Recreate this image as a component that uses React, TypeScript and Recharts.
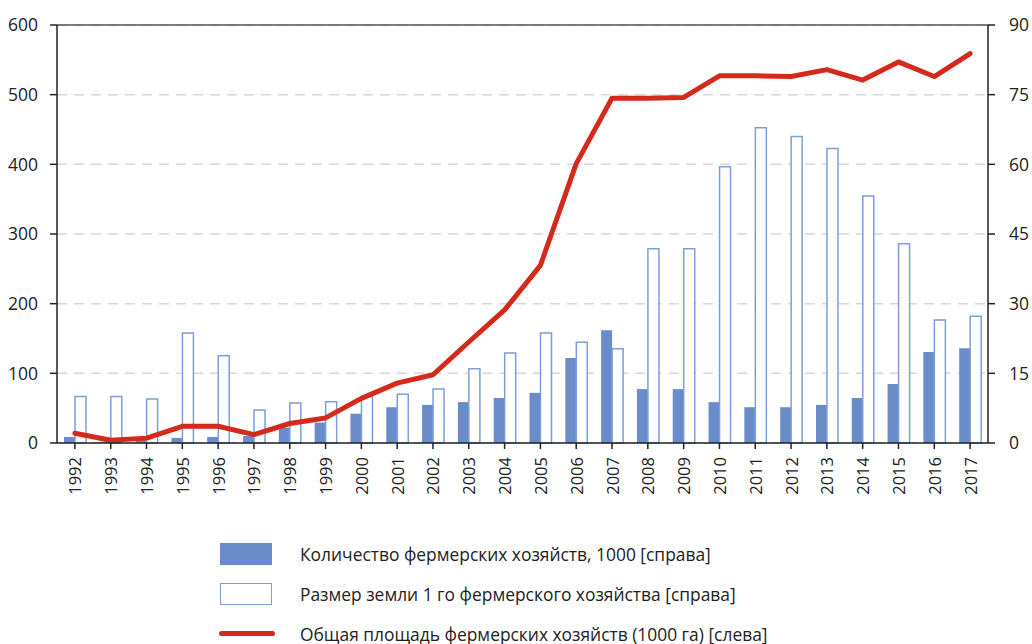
import React from 'react';
import {
  ComposedChart,
  Bar,
  Line,
  XAxis,
  YAxis,
  CartesianGrid,
  ReferenceLine,
} from 'recharts';

const years = [
  '1992', '1993', '1994', '1995', '1996', '1997', '1998', '1999', '2000', '2001',
  '2002', '2003', '2004', '2005', '2006', '2007', '2008', '2009', '2010', '2011',
  '2012', '2013', '2014', '2015', '2016', '2017',
];

// Количество фермерских хозяйств, 1000 [справа]
const farmCount = [
  1.3, 0.3, 0.6, 1.1, 1.3, 1.5, 3.3, 4.4, 6.3, 7.7,
  8.2, 8.8, 9.7, 10.8, 18.3, 24.3, 11.6, 11.6, 8.8, 7.7,
  7.7, 8.2, 9.7, 12.7, 19.6, 20.4,
];

// Размер земли 1 го фермерского хозяйства [справа]
const landSize = [
  10.0, 10.0, 9.5, 23.7, 18.8, 7.1, 8.6, 8.9, 10.0, 10.5,
  11.6, 16.0, 19.4, 23.7, 21.7, 20.3, 41.8, 41.8, 59.5, 67.9,
  66.0, 63.4, 53.2, 42.9, 26.5, 27.3,
];

// Общая площадь фермерских хозяйств (1000 га) [слева]
const totalArea = [
  14, 4, 7, 24, 24, 12, 28, 36, 64, 86,
  98, 145, 191, 255, 401, 495, 495, 496, 527, 527,
  526, 536, 521, 547, 526, 559,
];

const leftTicks = [0, 100, 200, 300, 400, 500, 600];
const rightTicks = [0, 15, 30, 45, 60, 75, 90];

const legendLabels = [
  'Количество фермерских хозяйств, 1000 [справа]',
  'Размер земли 1 го фермерского хозяйства [справа]',
  'Общая площадь фермерских хозяйств (1000 га) [слева]',
];

const data = years.map((y, i) => ({
  year: y,
  count: farmCount[i],
  size: landSize[i],
  area: totalArea[i],
}));

const FONT = '"Open Sans", sans-serif';
const BLUE = '#6a8cc8';
const BLUE_LINE = '#7d9fd8';
const RED = '#d42a1b';

const XTick = (props: any) => {
  const { x, y, payload } = props;
  return (
    <text
      transform={`translate(${x},${y + 6}) rotate(-90)`}
      textAnchor="end"
      dominantBaseline="central"
      fontFamily={FONT}
      fontSize={16.5}
      fill="#222"
    >
      {payload.value}
    </text>
  );
};

export default function App() {
  return (
    <div
      style={{
        position: 'absolute',
        left: 0,
        top: 0,
        width: 1032,
        height: 644,
        background: '#fff',
        fontFamily: FONT,
      }}
    >
      <ComposedChart
        width={1032}
        height={644}
        data={data}
        margin={{ top: 25, right: 0, bottom: 0, left: 0 }}
        barGap={0}
        barSize={11}
      >
        <CartesianGrid
          yAxisId="left"
          vertical={false}
          stroke="#d8d8d8"
          strokeWidth={1.5}
          strokeDasharray="10 7"
        />
        <XAxis
          dataKey="year"
          height={201}
          tick={<XTick />}
          tickLine={{ stroke: '#222', strokeWidth: 1.5 }}
          axisLine={{ stroke: '#222', strokeWidth: 1.5 }}
          tickSize={6}
          interval={0}
        />
        <YAxis
          yAxisId="left"
          orientation="left"
          width={57}
          domain={[0, 600]}
          ticks={leftTicks}
          tickSize={7}
          tickMargin={12}
          tick={{ fontFamily: FONT, fontSize: 17.5, fill: '#222' }}
          tickLine={{ stroke: '#222', strokeWidth: 1.5 }}
          axisLine={{ stroke: '#222', strokeWidth: 1.5 }}
        />
        <YAxis
          yAxisId="right"
          orientation="right"
          width={44}
          domain={[0, 90]}
          ticks={rightTicks}
          tickSize={7}
          tickMargin={14}
          tick={{ fontFamily: FONT, fontSize: 17.5, fill: '#222', textAnchor: 'start' }}
          tickLine={{ stroke: '#222', strokeWidth: 1.5 }}
          axisLine={{ stroke: '#222', strokeWidth: 1.5 }}
        />
        <ReferenceLine yAxisId="left" y={600} stroke="#555" strokeWidth={1.5} />
        <Bar
          yAxisId="right"
          dataKey="count"
          fill={BLUE}
          isAnimationActive={false}
        />
        <Bar
          yAxisId="right"
          dataKey="size"
          fill="#ffffff"
          stroke={BLUE_LINE}
          strokeWidth={1.5}
          isAnimationActive={false}
        />
        <Line
          yAxisId="left"
          dataKey="area"
          stroke={RED}
          strokeWidth={5}
          strokeLinecap="round"
          strokeLinejoin="round"
          dot={false}
          activeDot={false}
          isAnimationActive={false}
        />
      </ComposedChart>

      <div style={{ position: 'absolute', left: 0, top: 0, width: 1032, height: 644, pointerEvents: 'none' }}>
        {legendLabels.map((label, i) => {
          const cy = 554 + i * 40;
          return (
            <div key={label}>
              {i === 0 && (
                <div style={{ position: 'absolute', left: 220, top: cy - 11, width: 52, height: 22, background: BLUE }} />
              )}
              {i === 1 && (
                <div
                  style={{
                    position: 'absolute',
                    left: 220,
                    top: cy - 11,
                    width: 52,
                    height: 22,
                    boxSizing: 'border-box',
                    background: '#fff',
                    border: `1.5px solid ${BLUE_LINE}`,
                  }}
                />
              )}
              {i === 2 && (
                <div
                  style={{
                    position: 'absolute',
                    left: 219,
                    top: cy - 3,
                    width: 56,
                    height: 5,
                    borderRadius: 3,
                    background: RED,
                  }}
                />
              )}
              <div
                style={{
                  position: 'absolute',
                  left: 300,
                  top: cy - 13,
                  height: 26,
                  lineHeight: '26px',
                  fontSize: 17.4,
                  color: '#222',
                  whiteSpace: 'nowrap',
                  fontFamily: FONT,
                }}
              >
                {label}
              </div>
            </div>
          );
        })}
      </div>
    </div>
  );
}
